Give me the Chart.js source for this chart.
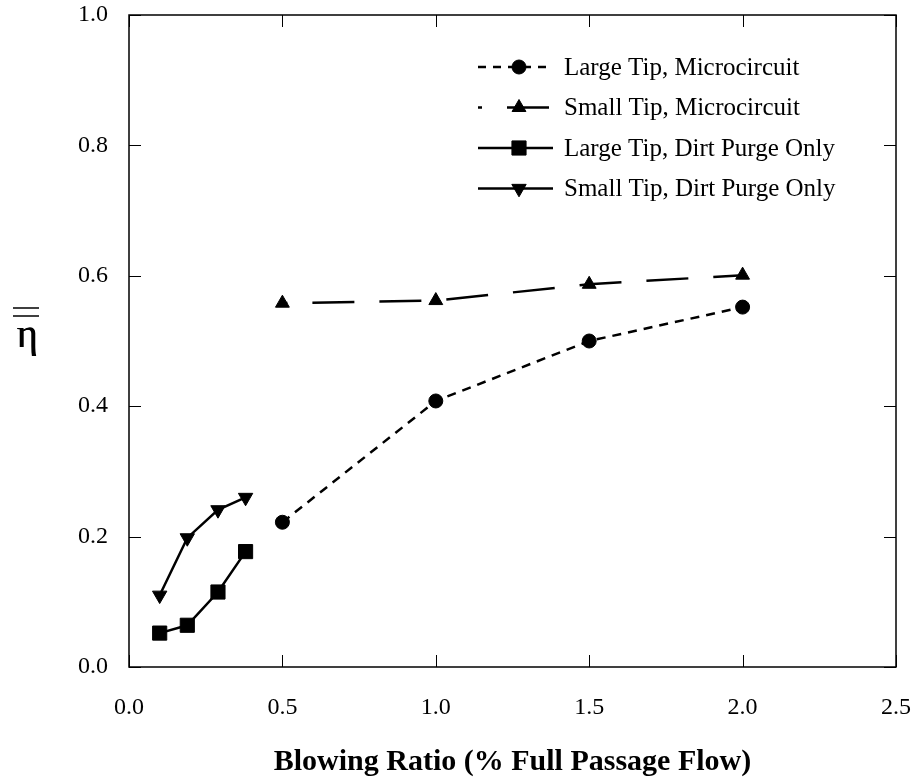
<!DOCTYPE html>
<html>
<head>
<meta charset="utf-8">
<script src="https://cdn.jsdelivr.net/npm/chart.js@4.4.1/dist/chart.umd.min.js"></script>
<style>
  html, body { margin: 0; padding: 0; background: #fff; }
  #wrap { width: 917px; height: 784px; }
</style>
</head>
<body>
<div id="wrap"><canvas id="chart" width="917" height="784"></canvas></div>
<script>
// blowing ratio values (x) and film effectiveness (y)
const seriesNames = ["Large Tip, Microcircuit", "Small Tip, Microcircuit", "Large Tip, Dirt Purge Only", "Small Tip, Dirt Purge Only"];
const xMicro = [0.5, 1.0, 1.5, 2.0];
const yLargeMicro = [0.222, 0.408, 0.500, 0.552];
const ySmallMicro = [0.558, 0.562, 0.587, 0.601];
const xDirt = [0.1, 0.19, 0.29, 0.38];
const yLargeDirt = [0.052, 0.064, 0.115, 0.177];
const ySmallDirt = [0.110, 0.198, 0.241, 0.260];
const xTicks = [0.0, 0.5, 1.0, 1.5, 2.0, 2.5];
const yTicks = [0.0, 0.2, 0.4, 0.6, 0.8, 1.0];

const toPoints = (xs, ys) => xs.map((x, i) => ({ x: x, y: ys[i] }));

const serif = "'Liberation Serif', 'Times New Roman', serif";

function series(label, data, style, radius, rotation, dash, dashOffset) {
    return {
        label: label,
        data: data,
        showLine: true,
        borderColor: "#000",
        backgroundColor: "#000",
        borderWidth: 2.5,
        borderDash: dash,
        borderDashOffset: dashOffset,
        pointStyle: style,
        pointRadius: radius,
        pointRotation: rotation,
        pointBorderWidth: 1,
        pointBackgroundColor: "#000",
        pointBorderColor: "#000",
        tension: 0
    };
}

// legend sample dashes (same as the series)
const legendDash = [[8, 7], [42, 25], [], []];
const legendDashOffset = [0, 38, 0, 0];

const framePlugin = {
    id: "frame",
    afterDraw(chart) {
        const ctx = chart.ctx;
        const a = chart.chartArea;
        const xs = chart.scales.x, ys = chart.scales.y;
        ctx.save();
        ctx.strokeStyle = "#000";
        ctx.lineWidth = 1.5;
        ctx.strokeRect(a.left, a.top, a.right - a.left, a.bottom - a.top);
        ctx.lineWidth = 1;
        ctx.beginPath();
        xTicks.forEach(v => {
            const px = Math.round(xs.getPixelForValue(v)) + 0.5;
            ctx.moveTo(px, a.bottom); ctx.lineTo(px, a.bottom - 12);
            ctx.moveTo(px, a.top); ctx.lineTo(px, a.top + 12);
        });
        yTicks.forEach(v => {
            const py = Math.round(ys.getPixelForValue(v)) + 0.5;
            ctx.moveTo(a.left, py); ctx.lineTo(a.left + 12, py);
            ctx.moveTo(a.right, py); ctx.lineTo(a.right - 12, py);
        });
        ctx.stroke();

        // y axis label: eta with double overbar
        ctx.fillStyle = "#000";
        ctx.font = "40px " + serif;
        ctx.textAlign = "center";
        ctx.textBaseline = "alphabetic";
        ctx.fillText("η", 27, 347);
        ctx.fillText("η", 27.6, 347);
        ctx.lineWidth = 1.5;
        ctx.beginPath();
        ctx.moveTo(13, 308); ctx.lineTo(39, 308);
        ctx.moveTo(13, 316); ctx.lineTo(39, 316);
        ctx.stroke();

        // legend
        const x0 = 478, x1 = 553, mx = 519, tx = 564;
        chart.data.datasets.forEach((ds, i) => {
            const y = 67 + i * 40.5;
            ctx.save();
            ctx.lineWidth = ds.borderWidth;
            ctx.setLineDash(legendDash[i]);
            ctx.lineDashOffset = legendDashOffset[i];
            ctx.beginPath();
            ctx.moveTo(x0, y); ctx.lineTo(x1, y);
            ctx.stroke();
            ctx.restore();
            ctx.fillStyle = "#000";
            ctx.strokeStyle = "#000";
            ctx.lineWidth = 1;
            Chart.helpers.drawPoint(ctx, {
                pointStyle: ds.pointStyle,
                rotation: ds.pointRotation,
                radius: ds.pointRadius,
                borderWidth: 1
            }, mx, y);
            ctx.font = "25px " + serif;
            ctx.textAlign = "left";
            ctx.textBaseline = "middle";
            ctx.fillText(ds.label, tx, y + 1);
        });
        ctx.restore();
    }
};

new Chart(document.getElementById("chart"), {
    type: "scatter",
    data: {
        datasets: [
            series(seriesNames[0], toPoints(xMicro, yLargeMicro), "circle", 7, 0, [9, 7], 0),
            series(seriesNames[1], toPoints(xMicro, ySmallMicro), "triangle", 8, 0, [42, 25], 37),
            series(seriesNames[2], toPoints(xDirt, yLargeDirt), "rect", 10, 0, [], 0),
            series(seriesNames[3], toPoints(xDirt, ySmallDirt), "triangle", 8.3, 180, [], 0)
        ]
    },
    options: {
        responsive: false,
        animation: false,
        layout: { padding: { top: 15, right: 21, left: 0, bottom: 0 } },
        plugins: { legend: { display: false }, tooltip: { enabled: false } },
        scales: {
            x: {
                type: "linear",
                min: 0, max: 2.5,
                afterFit: s => { s.height = 117; s.paddingLeft = 0; s.paddingRight = 0; },
                afterBuildTicks: s => { s.ticks = xTicks.map(v => ({ value: v })); },
                grid: { display: false, drawTicks: false },
                border: { display: false },
                ticks: {
                    padding: 26,
                    color: "#000",
                    font: { family: serif, size: 24 },
                    callback: v => v.toFixed(1)
                },
                title: {
                    display: true,
                    text: "Blowing Ratio (% Full Passage Flow)",
                    color: "#000",
                    font: { family: serif, size: 30, weight: "bold" },
                    padding: { top: 0, bottom: 4 }
                }
            },
            y: {
                type: "linear",
                min: 0, max: 1,
                afterFit: s => { s.width = 129; s.paddingTop = 0; s.paddingBottom = 0; },
                afterBuildTicks: s => { s.ticks = yTicks.map(v => ({ value: v })); },
                grid: { display: false, drawTicks: false },
                border: { display: false },
                ticks: {
                    padding: 21,
                    color: "#000",
                    font: { family: serif, size: 24 },
                    callback: v => v.toFixed(1)
                }
            }
        }
    },
    plugins: [framePlugin]
});
</script>
</body>
</html>
